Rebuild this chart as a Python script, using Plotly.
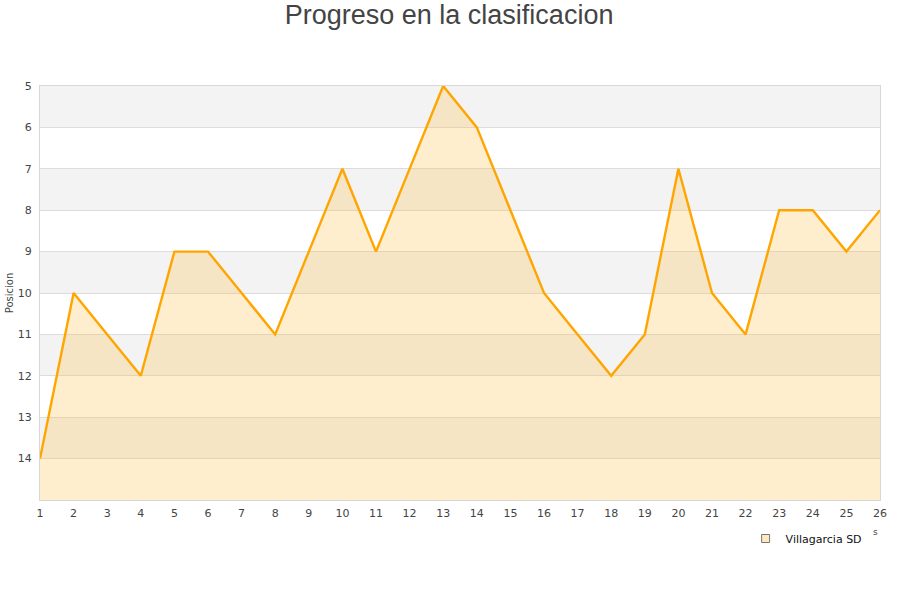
import plotly.graph_objects as go

jornadas = list(range(1, 27))
posiciones = [14, 10, 11, 12, 9, 9, 10, 11, 9, 7, 9, 7, 5, 6, 8, 10, 11, 12, 11, 7, 10, 11, 8, 8, 9, 8]
equipo = "Villagarcia SD"
y_ticks = list(range(5, 15))
fondo = 15

fig = go.Figure()

# baseline for fill
fig.add_trace(go.Scatter(x=jornadas, y=[fondo] * len(jornadas), mode="lines",
                         line=dict(width=0, color="rgba(0,0,0,0)"), showlegend=False,
                         hoverinfo="skip"))
fig.add_trace(go.Scatter(x=jornadas, y=posiciones, mode="lines", fill="tonexty",
                         fillcolor="rgba(255,186,60,0.25)",
                         line=dict(color="#FFA500", width=2.4), showlegend=False,
                         name=equipo))
# legend entry
fig.add_trace(go.Scatter(x=[None], y=[None], mode="markers", name=equipo,
                         marker=dict(symbol="square", size=8, color="#FDE8C0",
                                     line=dict(color="#777", width=1))))

shapes = []
for a in range(5, 15, 2):
    shapes.append(dict(type="rect", xref="paper", yref="y", x0=0, x1=1, y0=a, y1=a + 1,
                       fillcolor="#f3f3f3", line=dict(width=0), layer="below"))

fig.update_layout(
    width=900, height=600,
    paper_bgcolor="white", plot_bgcolor="white",
    margin=dict(l=40, r=20, t=86, b=100, autoexpand=False),
    title=dict(text="Progreso en la clasificacion", x=0.499, xanchor="center",
               yref="container", y=0.975, yanchor="middle", pad=dict(t=0, b=0),
               font=dict(family="Liberation Sans, Arial", size=27, color="#444")),
    shapes=shapes,
    showlegend=True,
    legend=dict(x=0.840, y=-0.058, xanchor="left", yanchor="top", orientation="h",
                font=dict(family="DejaVu Sans", size=11, color="#111"),
                bgcolor="rgba(0,0,0,0)"),
    font=dict(family="DejaVu Sans", size=11, color="#444"),
)
fig.update_xaxes(range=[1, 26], tickvals=jornadas, showgrid=False, zeroline=False,
                 showline=True, linecolor="#d8d8d8", linewidth=1, mirror=True,
                 automargin=False, ticklabelstandoff=3,
                 ticks="", tickfont=dict(size=11, color="#444"))
fig.update_yaxes(range=[15, 5], tickvals=y_ticks, showgrid=True, gridcolor="#dcdcdc",
                 zeroline=False, showline=True, linecolor="#d8d8d8", linewidth=1, mirror=True,
                 automargin=False, ticklabelstandoff=5,
                 ticks="", tickfont=dict(size=11, color="#444"),
                 title=dict(text="Posicion", font=dict(size=10, color="#444"), standoff=2))
fig.add_annotation(text="s", xref="paper", yref="paper", x=1.0, y=-0.094,
                   showarrow=False, font=dict(size=9, color="#444"))

fig.write_html("out.html", post_script="document.body.style.margin='0';",
               config={"displayModeBar": False})
